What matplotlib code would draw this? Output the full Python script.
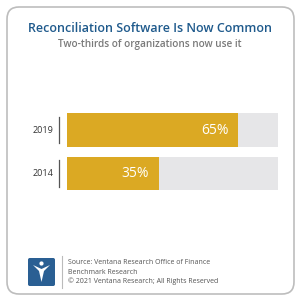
import matplotlib.pyplot as plt
from matplotlib.patches import FancyBboxPatch, Polygon, Circle
from matplotlib import transforms

years = ['2014', '2019']
values = [35, 65]
labels = ['35%', '65%']
track = 80

title = 'Reconciliation Software Is Now Common'
subtitle = 'Two-thirds of organizations now use it'
source = ['Source: Ventana Research Office of Finance',
          'Benchmark Research',
          '\u00a9 2021 Ventana Research; All Rights Reserved']

gold = '#DBA923'
grey = '#E6E6E8'
blue = '#1F5A8C'

plt.rcParams['font.family'] = ['Open Sans', 'DejaVu Sans']

W, H = 300, 301
fig = plt.figure(figsize=(W / 100, H / 100), dpi=100)
fig.patch.set_facecolor('white')

def fx(px):
    return px / W

def fy(py):
    return 1 - py / H

# rounded frame
frame = FancyBboxPatch((fx(7), fy(294)), fx(287), (294 - 7) / H,
                       boxstyle='round,pad=0,rounding_size=0.04',
                       transform=fig.transFigure, facecolor='none',
                       edgecolor='#BDBDBD', lw=1.2, zorder=-1)
fig.patches.append(frame)

fig.text(0.5, fy(28), title, ha='center', va='center', color=blue,
         fontsize=9.0, fontweight='semibold')
fig.text(0.5, fy(45), subtitle, ha='center', va='center', color='#7A7A7A',
         fontsize=7.2, fontweight='semibold')

# bars
ax = fig.add_axes([fx(67), fy(192), fx(278 - 67), 82 / H])
ypos = [0, 1]
ax.barh(ypos, [track] * 2, height=0.76, color=grey)
ax.barh(ypos, values, height=0.76, color=gold)
ax.set_xlim(0, track)
ax.set_ylim(-0.425, 1.46)
ax.axis('off')

for y, v, lab in zip(ypos, values, labels):
    ax.text(v - 9, y, lab, ha='center', va='center', color='white',
            fontsize=10)

tr = transforms.blended_transform_factory(fig.transFigure, ax.transData)
for y, yr in zip(ypos, years):
    ax.plot([fx(59), fx(59)], [y - 0.3, y + 0.3], color='#555555', lw=0.9,
            transform=tr, clip_on=False)
    ax.text(fx(53), y, yr, ha='right', va='center', color='#333333',
            fontsize=6.5, transform=tr)

# logo
logo = FancyBboxPatch((fx(28), fy(286)), fx(27), 28 / H,
                      boxstyle='round,pad=0,rounding_size=0.006',
                      transform=fig.transFigure, facecolor='#2A5F93',
                      edgecolor='none')
fig.patches.append(logo)
vshape = Polygon([(fx(33), fy(265)), (fx(41.5), fy(269)), (fx(50), fy(265)),
                  (fx(44), fy(271)), (fx(41.5), fy(282)), (fx(39), fy(271))],
                 closed=True, transform=fig.transFigure, facecolor='white',
                 edgecolor='none')
fig.patches.append(vshape)
fig.patches.append(Circle((fx(41.5), fy(263.5)), 0.007,
                          transform=fig.transFigure, facecolor='white'))
fig.add_artist(plt.Line2D([fx(62), fx(62)], [fy(256), fy(288)],
                          color='#BBBBBB', lw=0.8, transform=fig.transFigure))

for i, line in enumerate(source):
    fig.text(fx(68), fy(263 + 9 * i), line, ha='left', va='center',
             color='#555555', fontsize=5.0)

fig.savefig('out.png', dpi=100)
